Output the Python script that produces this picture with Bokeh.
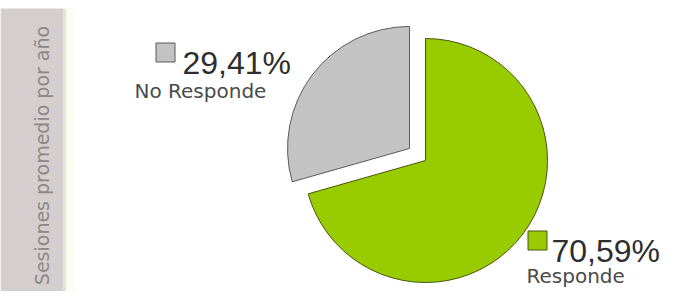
import math
from bokeh.plotting import figure
from bokeh.models import Range1d, Label
from bokeh.embed import file_html
from bokeh.resources import INLINE

# ---- data ----
categories = ["No Responde", "Responde"]
percent = [29.41, 70.59]
pct_labels = ["29,41%", "70,59%"]
colors = ["#c3c3c3", "#99cc00"]
outline_colors = ["#5a5a5a", "#4a5410"]
axis_title = "Sesiones promedio por año"

W, H = 663, 291


def Y(py):
    # picture pixel y (from top) -> data y (grows upward)
    return H - py


p = figure(width=W, height=H, output_backend="svg", toolbar_location=None,
           x_range=Range1d(0, W), y_range=Range1d(0, H),
           x_axis_type=None, y_axis_type=None, min_border=0,
           background_fill_color="#ffffff", border_fill_color="#ffffff")
p.grid.visible = False
p.outline_line_color = None

# left title strip
p.quad(left=[0], right=[63], bottom=[0], top=[Y(8)], fill_color="#d4cfce", line_color=None)
p.quad(left=[63], right=[66], bottom=[0], top=[Y(8)], fill_color="#e6e3df", line_color=None)
p.quad(left=[66], right=[75], bottom=[0], top=[Y(8)], fill_color="#fcfcf3", line_color=None)
p.add_layout(Label(x=41, y=Y(155), text=axis_title, angle=math.pi / 2,
                   text_align="center", text_baseline="alphabetic",
                   text_font="DejaVu Sans", text_font_size="19px", text_color="#8c8888"))

# pie
cx, cy, R = 425, Y(160), 122
explode = [20, 0]
total = sum(percent)
# Responde goes clockwise from 12 o'clock; No Responde fills the rest
ang_resp = percent[1] / total * 2 * math.pi
starts = [math.pi / 2, math.pi / 2 - ang_resp]
ends = [math.pi / 2 + percent[0] / total * 2 * math.pi, math.pi / 2]
xs, ys = [], []
for s, e, d in zip(starts, ends, explode):
    mid = (s + e) / 2
    xs.append(cx + d * math.cos(mid))
    ys.append(cy + d * math.sin(mid))
p.wedge(x=xs, y=ys, radius=R, start_angle=starts, end_angle=ends,
        fill_color=colors, line_color=outline_colors, line_width=1)

# legend-like labels
sq = [(165, Y(52)), (537, Y(240))]
pct_pos = [(182, Y(62)), (551, Y(250))]
name_pos = [(134, Y(90)), (526, Y(275))]
p.rect(x=[s[0] for s in sq], y=[s[1] for s in sq], width=19, height=19,
       fill_color=colors, line_color=outline_colors, line_width=1)
for i in range(len(categories)):
    p.add_layout(Label(x=pct_pos[i][0], y=pct_pos[i][1], text=pct_labels[i],
                       text_baseline="alphabetic", text_font="Liberation Sans",
                       text_font_size="32px", text_color="#2e2e2e"))
    p.add_layout(Label(x=name_pos[i][0], y=name_pos[i][1], text=categories[i],
                       text_baseline="alphabetic", text_font="DejaVu Sans",
                       text_font_size="20px", text_color="#4a4a4a"))

open("out.html", "w").write(file_html(p, INLINE))
